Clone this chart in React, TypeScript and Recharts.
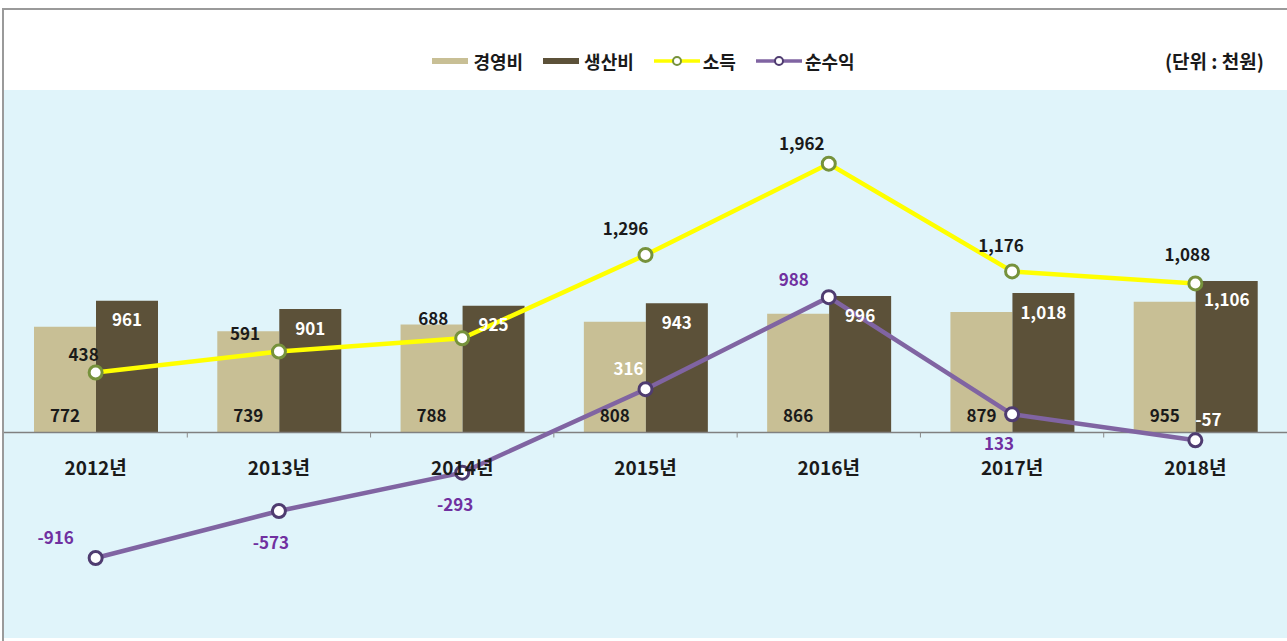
import React from 'react';
import {
  ComposedChart,
  Bar,
  Line,
  XAxis,
  YAxis,
  CartesianGrid,
  ReferenceLine,
  LabelList,
  Legend,
} from 'recharts';

// ---- data ----
const years = ['2012년', '2013년', '2014년', '2015년', '2016년', '2017년', '2018년'];
const managementCost = [772, 739, 788, 808, 866, 879, 955]; // 경영비
const productionCost = [961, 901, 925, 943, 996, 1018, 1106]; // 생산비
const income = [438, 591, 688, 1296, 1962, 1176, 1088]; // 소득
const netProfit = [-916, -573, -293, 316, 988, 133, -57]; // 순수익

const data = years.map((year, i) => ({
  year,
  경영비: managementCost[i],
  생산비: productionCost[i],
  소득: income[i],
  순수익: netProfit[i],
}));

// ---- layout / style ----
const W = 1287;
const H = 641;
const X_AXIS_H = 1;
const MARGIN = { top: 90, right: 0, bottom: 2, left: 4 };
const Y_MIN = -1500;
const Y_MAX = 2500;
const PLOT_H = H - MARGIN.top - MARGIN.bottom - X_AXIS_H;
const ZERO_Y = MARGIN.top + (Y_MAX / (Y_MAX - Y_MIN)) * PLOT_H;
const BAND = (W - MARGIN.left - MARGIN.right) / years.length;
const FONT = "'Noto Sans CJK KR', 'Noto Sans', sans-serif";

const TAN = '#C8BF95';
const DARK = '#5C5139';
const YELLOW = '#FFFF00';
const PURPLE = '#8064A2';
const LABEL_PURPLE = '#7030A0';

// label placement (dx, dy from point) — placement, not data
const incomeLabelOffsets = [
  [-12, -19], [-34, -19], [-29, -21], [-20, -27], [-27, -21], [-11, -27], [-8, -30],
];
const netLabelOffsets = [
  [-40, -21], [-8, 30], [-7, 31], [-17, -22], [-35, -19], [-13, 28], [13, -22],
];
const netLabelWhite = [false, false, false, true, false, false, true];

const fmt = (v: number) => v.toLocaleString('en-US');

const XTick = (props: any) => {
  const { x, payload, index } = props;
  return (
    <g>
      <text
        x={x}
        y={ZERO_Y + 34}
        textAnchor="middle"
        dominantBaseline="central"
        fontFamily={FONT}
        fontSize={19}
        fontWeight={700}
        fill="#1a1a1a"
      >
        {payload.value}
      </text>
      {index < years.length - 1 && (
        <line x1={x + BAND / 2} x2={x + BAND / 2} y1={ZERO_Y} y2={ZERO_Y + 5} stroke="#8a8a8a" strokeWidth={1} />
      )}
    </g>
  );
};

const BaseLabel = (props: any) => {
  const { x, y, width, height, value } = props;
  return (
    <text
      x={x + width / 2}
      y={y + height - 18}
      textAnchor="middle"
      dominantBaseline="central"
      fontFamily={FONT}
      fontSize={17}
      fontWeight={700}
      fill="#1a1a1a"
    >
      {fmt(value)}
    </text>
  );
};

const TopLabel = (props: any) => {
  const { x, y, width, value } = props;
  return (
    <text
      x={x + width / 2}
      y={y + 18}
      textAnchor="middle"
      dominantBaseline="central"
      fontFamily={FONT}
      fontSize={17}
      fontWeight={700}
      fill="#ffffff"
    >
      {fmt(value)}
    </text>
  );
};

const IncomeLabel = (props: any) => {
  const { x, y, value, index } = props;
  const [dx, dy] = incomeLabelOffsets[index];
  return (
    <text
      x={x + dx}
      y={y + dy}
      textAnchor="middle"
      dominantBaseline="central"
      fontFamily={FONT}
      fontSize={17}
      fontWeight={700}
      fill="#1a1a1a"
    >
      {fmt(value)}
    </text>
  );
};

const NetLabel = (props: any) => {
  const { x, y, value, index } = props;
  const [dx, dy] = netLabelOffsets[index];
  return (
    <text
      x={x + dx}
      y={y + dy}
      textAnchor="middle"
      dominantBaseline="central"
      fontFamily={FONT}
      fontSize={17}
      fontWeight={700}
      fill={netLabelWhite[index] ? '#ffffff' : LABEL_PURPLE}
    >
      {fmt(value)}
    </text>
  );
};

const LegendContent = (props: any) => {
  const payload = props.payload || [];
  const textStyle: React.CSSProperties = {
    fontFamily: FONT,
    fontSize: 18,
    fontWeight: 700,
    color: '#1a1a1a',
    lineHeight: '24px',
  };
  return (
    <div style={{ position: 'relative', width: W, height: 30 }}>
      <div style={{ display: 'flex', justifyContent: 'center', alignItems: 'center', height: 30 }}>
        {payload.map((p: any, i: number) => {
          const isLine = p.dataKey === '소득' || p.dataKey === '순수익';
          return (
            <div key={i} style={{ display: 'flex', alignItems: 'center', marginLeft: i === 0 ? 0 : 20 }}>
              {isLine ? (
                <svg width={46} height={14} style={{ marginRight: 3 }}>
                  <line x1={0} x2={46} y1={7} y2={7} stroke={p.color} strokeWidth={3.5} />
                  <circle
                    cx={23}
                    cy={7}
                    r={4}
                    fill="#ffffff"
                    stroke={p.dataKey === '소득' ? '#76923C' : '#4F3C70'}
                    strokeWidth={2}
                  />
                </svg>
              ) : (
                <svg width={36} height={8} style={{ marginRight: 5 }}>
                  <rect x={0} y={1} width={36} height={6} fill={p.color} />
                </svg>
              )}
              <span style={textStyle}>{p.value}</span>
            </div>
          );
        })}
      </div>
      <div style={{ ...textStyle, fontSize: 19, position: 'absolute', right: 23, top: 3 }}>(단위 : 천원)</div>
    </div>
  );
};

export default function App() {
  return (
    <div style={{ position: 'absolute', left: 0, top: 0, width: W, height: H, background: '#ffffff' }}>
      <ComposedChart width={W} height={H} data={data} margin={MARGIN} barGap={0}>
        <CartesianGrid fill="#E0F4FA" horizontal={false} vertical={false} stroke="none" />
        <XAxis
          dataKey="year"
          height={X_AXIS_H}
          axisLine={false}
          tickLine={false}
          interval={0}
          tick={<XTick />}
        />
        <YAxis hide domain={[Y_MIN, Y_MAX]} type="number" allowDataOverflow />
        <Legend
          layout="horizontal"
          verticalAlign="middle"
          align="center"
          content={<LegendContent />}
          wrapperStyle={{ position: 'absolute', top: 46, left: 0, width: W, height: 30 }}
        />
        <Bar dataKey="경영비" fill={TAN} barSize={62} isAnimationActive={false}>
          <LabelList dataKey="경영비" content={<BaseLabel />} />
        </Bar>
        <Bar dataKey="생산비" fill={DARK} barSize={62} isAnimationActive={false}>
          <LabelList dataKey="생산비" content={<TopLabel />} />
        </Bar>
        <ReferenceLine y={0} stroke="#808080" strokeWidth={1.5} />
        <Line
          type="linear"
          dataKey="소득"
          stroke={YELLOW}
          strokeWidth={4.5}
          dot={{ r: 6.5, fill: '#ffffff', stroke: '#76923C', strokeWidth: 3 }}
          activeDot={false}
          isAnimationActive={false}
        >
          <LabelList dataKey="소득" content={<IncomeLabel />} />
        </Line>
        <Line
          type="linear"
          dataKey="순수익"
          stroke={PURPLE}
          strokeWidth={4.5}
          dot={{ r: 6.5, fill: '#ffffff', stroke: '#4F3C70', strokeWidth: 3 }}
          activeDot={false}
          isAnimationActive={false}
        >
          <LabelList dataKey="순수익" content={<NetLabel />} />
        </Line>
      </ComposedChart>
      <div
        style={{
          position: 'absolute',
          left: 2,
          top: 8,
          width: W + 10,
          height: H,
          borderTop: '2px solid #9a9a9a',
          borderLeft: '2px solid #9a9a9a',
          pointerEvents: 'none',
        }}
      />
    </div>
  );
}
